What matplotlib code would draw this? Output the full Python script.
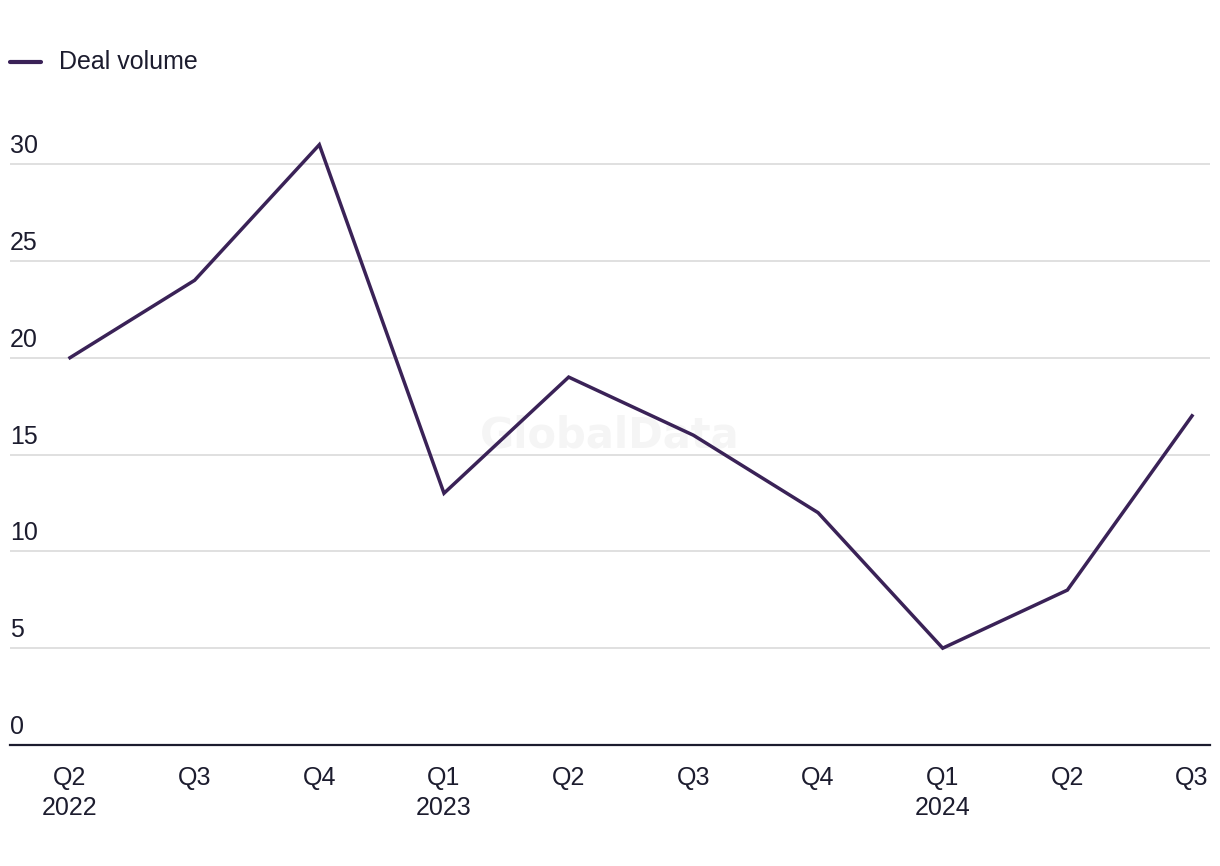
import matplotlib
matplotlib.use("Agg")
import matplotlib.pyplot as plt
import matplotlib.transforms as mtransforms

plt.rcParams['font.family'] = ['Liberation Sans', 'DejaVu Sans']

quarters = ["Q2", "Q3", "Q4", "Q1", "Q2", "Q3", "Q4", "Q1", "Q2", "Q3"]
years = ["2022", "", "", "2023", "", "", "", "2024", "", ""]
deal_volume = [20, 24, 31, 13, 19, 16, 12, 5, 8, 17]
y_ticks = [0, 5, 10, 15, 20, 25, 30]

line_color = "#3a2257"
text_color = "#1c1c2e"
grid_color = "#dadada"

fig = plt.figure(figsize=(12.2, 8.66), dpi=100)
ax = fig.add_axes([10 / 1220, 1 - 745 / 866, 1200 / 1220, (745 - 106) / 866])

x = list(range(len(deal_volume)))
ax.plot(x, deal_volume, color=line_color, lw=2.5, solid_joinstyle="miter", zorder=3)

ax.set_xlim(-0.481, 9.144)
ax.set_ylim(0, 33)

# gridlines and y labels sitting above them
trans = mtransforms.blended_transform_factory(ax.transAxes, ax.transData)
offset = mtransforms.ScaledTranslation(0, 6 / 100, fig.dpi_scale_trans)
for t in y_ticks:
    if t == 0:
        ax.axhline(0, color=text_color, lw=1.6, zorder=4, clip_on=False)
    else:
        ax.axhline(t, color=grid_color, lw=1.2, zorder=1)
    ax.text(0, t, str(t), transform=trans + offset, ha="left", va="bottom",
            fontsize=18, color=text_color)

ax.set_yticks([])
ax.set_xticks(x)
ax.set_xticklabels([q + ("\n" + yr if yr else "") for q, yr in zip(quarters, years)],
                   fontsize=18, color=text_color, linespacing=1.35, va="top")
ax.tick_params(axis="x", length=0, pad=15)
for s in ax.spines.values():
    s.set_visible(False)

# watermark, behind the line
ax.text(0.5, 1 - 435 / 866, "GlobalData", transform=fig.transFigure,
        ha="center", va="center", fontsize=30, fontweight="bold",
        color="#f5f5f5", zorder=0, family="DejaVu Sans")

# legend
fig.add_artist(plt.Line2D([10 / 1220, 41 / 1220], [1 - 62 / 866, 1 - 62 / 866],
                          color=line_color, lw=3, solid_capstyle="round"))
fig.text(59 / 1220, 1 - 62 / 866, "Deal volume", ha="left", va="center",
         fontsize=18, color=text_color)

fig.savefig("out.png", dpi=100)
